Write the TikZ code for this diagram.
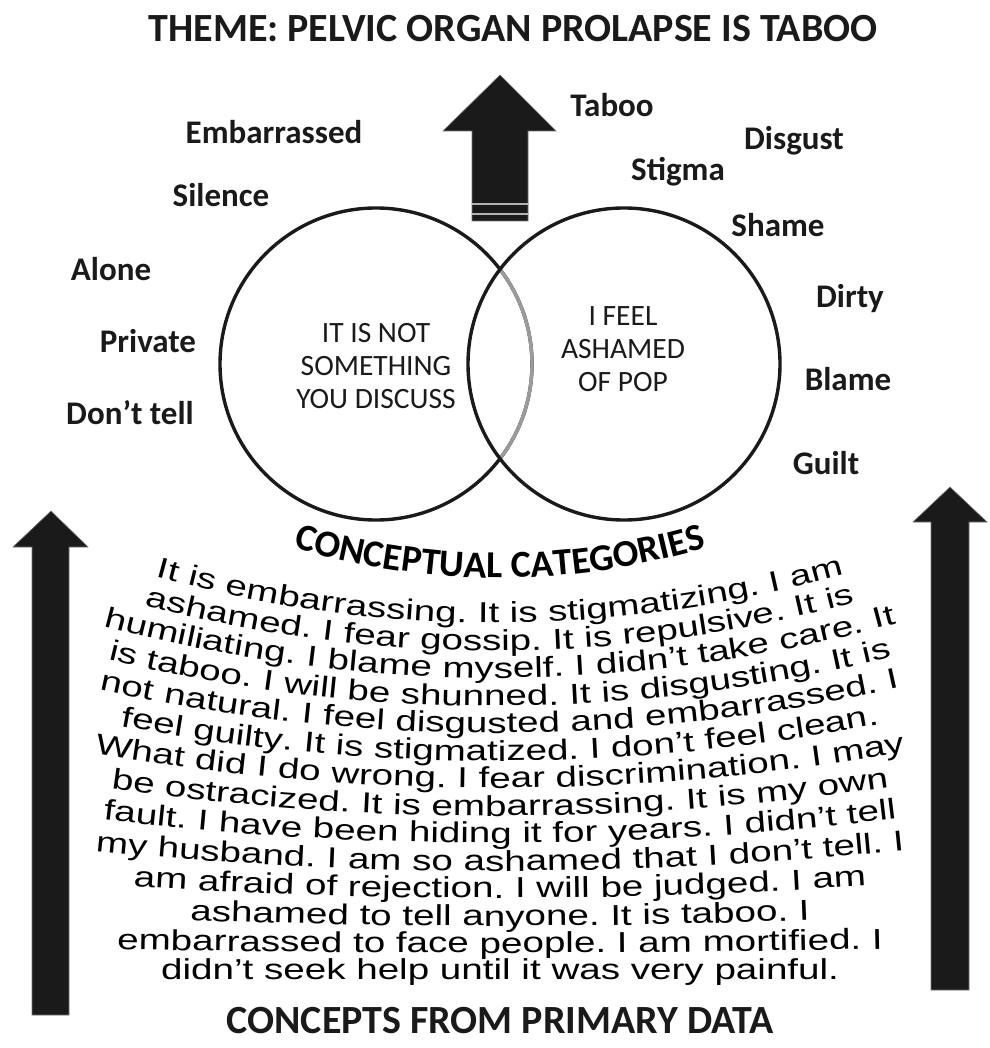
\documentclass[tikz,border=0pt]{standalone}
\usepackage{fontspec}
\setmainfont{Carlito}
\newfontfamily\bodyfont[FakeStretch=1.34]{Liberation Sans}
\usepackage{tikz}
\usetikzlibrary{decorations.text}

\definecolor{inkfill}{HTML}{1A1A1A}
\definecolor{overlapgray}{HTML}{9B9B9B}

\newcommand{\bodytext}{\bodyfont\fontsize{28.8}{28.8}\selectfont}
\newcommand{\archtext}{\bfseries\fontsize{38}{38}\selectfont}

% one warped line of quotes: edge baseline, sag, text
\newcommand{\warpline}[3]{%
  \path[decorate, decoration={text along path, text align=center, text={|\bodytext|#3}}]
    plot[domain=60:940, samples=41, smooth] (\x, {#1+#2*(1-((\x-495)/380)^2)});}

\tikzset{
  headline/.style={font=\bfseries\fontsize{40}{40}\selectfont, text=inkfill, inner sep=0pt, anchor=base},
  keyword/.style={font=\bfseries\fontsize{33}{33}\selectfont, text=inkfill, inner sep=0pt, anchor=base},
  venntext/.style={font=\fontsize{29.5}{33}\selectfont, align=center, text=inkfill, inner sep=0pt},
  vennline/.style={line width=3.4pt, draw=inkfill},
  bigarrow/.style={fill=inkfill, draw=black!55, line width=0.6pt, line join=miter},
  stripe/.style={draw=black!30, line width=1.2pt}
}

\begin{document}
\begin{tikzpicture}[x=1pt, y=-1pt]

\useasboundingbox (0,0) rectangle (989,1048);

% Title
\node[headline] (theme) at (513,42) {THEME: PELVIC ORGAN PROLAPSE IS TABOO};

% Arrow up to the theme
\draw[bigarrow] (472,221) -- (472,131) -- (443,131) -- (500,75) -- (556,131) -- (528,131) -- (528,221) -- cycle;
\draw[stripe] (472,204) -- (528,204);
\draw[stripe] (472,214) -- (528,214);

% Words round the categories
\node[keyword] (taboo) at (612,117) {Taboo};
\node[keyword] (embarrassed) at (274,144) {Embarrassed};
\node[keyword] (disgust) at (794,150) {Disgust};
\node[keyword] (stigma) at (678,181) {Stigma};
\node[keyword] (silence) at (221,207) {Silence};
\node[keyword] (shame) at (778,237) {Shame};
\node[keyword] (alone) at (111,280) {Alone};
\node[keyword] (dirty) at (850,307) {Dirty};
\node[keyword] (private) at (148,352) {Private};
\node[keyword] (blame) at (848,390) {Blame};
\node[keyword] (donttell) at (130,424) {Don’t tell};
\node[keyword] (guilt) at (826,474) {Guilt};

% Venn circles (overlap edge of the left circle in gray)
\coordinate (lc) at (376,364);
\coordinate (rc) at (624,364);
\draw[vennline] (lc) circle (156);
\begin{scope}
  \clip (rc) circle (156);
  \draw[vennline, draw=overlapgray] (lc) circle (156);
\end{scope}
\draw[vennline] (rc) circle (156);

\node[venntext] (discuss) at (376,366) {IT IS NOT\\SOMETHING\\YOU DISCUSS};
\node[venntext] (ashamed) at (623,349) {I FEEL\\ASHAMED\\OF POP};

% Arched label under the circles
\path[decorate, decoration={text along path, text align=center, text={|\archtext|CONCEPTUAL CATEGORIES}}]
  plot[domain=250:750, samples=31, smooth] (\x, {545+33*(1-((\x-500)/215)^2)});

% Side arrows
\draw[bigarrow] (32,1015) -- (32,547) -- (13,547) -- (51,511) -- (88,547) -- (69,547) -- (69,1015) -- cycle;
\draw[bigarrow] (931,990) -- (931,522) -- (913,522) -- (950,487) -- (987,522) -- (969,522) -- (969,990) -- cycle;

% Quotes from the primary data
\warpline{565}{58}{It is embarrassing. It is stigmatizing. I am}
\warpline{597}{54}{ashamed. I fear gossip. It is repulsive. It is}
\warpline{629}{49}{humiliating. I blame myself. I didn’t take care. It}
\warpline{661}{45}{is taboo. I will be shunned. It is disgusting. It is}
\warpline{693}{40}{not natural. I feel disgusted and embarrassed. I}
\warpline{725}{36}{feel guilty. It is stigmatized. I don’t feel clean.}
\warpline{757}{31}{What did I do wrong. I fear discrimination. I may}
\warpline{789}{27}{be ostracized. It is embarrassing. It is my own}
\warpline{821}{22}{fault. I have been hiding it for years. I didn’t tell}
\warpline{853}{18}{my husband. I am so ashamed that I don’t tell. I}
\warpline{885}{13}{am afraid of rejection. I will be judged. I am}
\warpline{917}{9}{ashamed to tell anyone. It is taboo. I}
\warpline{949}{4}{embarrassed to face people. I am mortified. I}
\warpline{979}{0}{didn’t seek help until it was very painful.}

% Bottom label
\node[headline] (concepts) at (500,1033) {CONCEPTS FROM PRIMARY DATA};

\end{tikzpicture}
\end{document}
